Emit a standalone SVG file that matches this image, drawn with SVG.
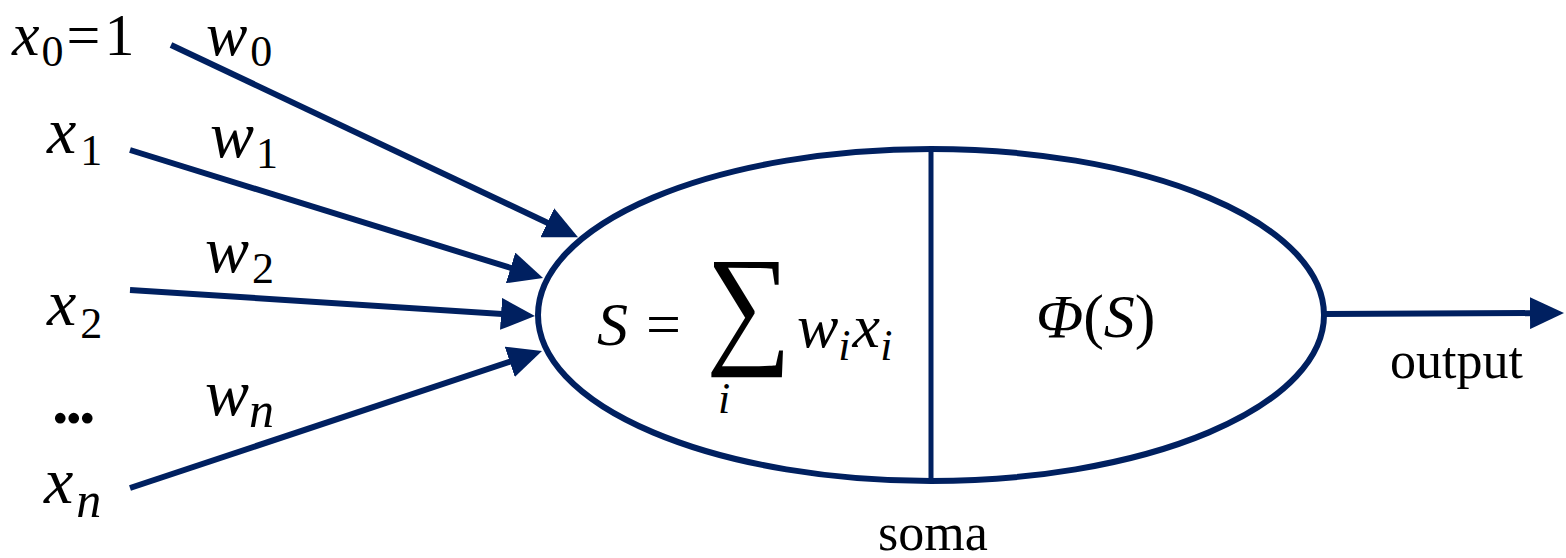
<svg xmlns="http://www.w3.org/2000/svg" width="1566" height="558" viewBox="0 0 1566 558">
<style>
.m{font-family:"Liberation Serif",serif;font-style:italic;font-size:66px;fill:#000}
.t{font-size:62px}
.f{font-family:"Liberation Serif",serif;font-style:italic;font-size:62px;fill:#000}
.up{font-style:normal}
.sub{font-size:44px;font-style:normal}
.isub{font-size:44px}
.nsub{font-size:50px}
.sig{font-family:"Liberation Serif",serif;font-size:133px;fill:#000}
.lbl{font-family:"Liberation Serif",serif;font-size:52px;fill:#000}
.ln{stroke:#002060;stroke-width:6;fill:none}
</style>
<defs>
<marker id="ah" markerUnits="userSpaceOnUse" markerWidth="34" markerHeight="32" refX="24" refY="16" orient="auto" viewBox="0 0 34 32">
<path d="M0,0 L34,16 L0,32 Z" fill="#002060"/>
</marker>
</defs>
<g id="soma">
<ellipse cx="931" cy="315" rx="393" ry="166" class="ln"/>
<line x1="931" y1="149" x2="931" y2="481" stroke="#002060" stroke-width="5"/>
<text x="597" y="345" class="f">S</text>
<text x="646" y="345" class="f up">=</text>
<text x="0" y="0" class="sig" transform="translate(706 349) scale(0.9 1)">∑</text>
<text x="718" y="413" class="f isub">i</text>
<text x="797" y="347" class="f">w<tspan class="isub" dy="13">i</tspan><tspan dx="2" dy="-13">x</tspan><tspan class="isub" dy="13">i</tspan></text>
<text x="1036" y="337" class="f" font-size="64">Φ<tspan class="up">(</tspan>S<tspan class="up">)</tspan></text>
<text x="933" y="550" class="lbl" text-anchor="middle">soma</text>
</g>
<g id="inputs">
<text x="12" y="55" class="m t">x<tspan class="sub" dx="2" dy="11">0</tspan><tspan class="up" font-size="60" dx="3" dy="-11">=</tspan><tspan class="up" font-size="60" dx="4">1</tspan></text>
<text x="47" y="153" class="m">x<tspan class="sub" dx="4" dy="12">1</tspan></text>
<text x="47" y="325" class="m">x<tspan class="sub" dx="4" dy="13">2</tspan></text>
<text x="52" y="423" class="m up" font-weight="bold" letter-spacing="-3">...</text>
<text x="44" y="503" class="m">x<tspan class="nsub" dx="3" dy="14">n</tspan></text>
</g>
<g id="weights">
<text x="206" y="55" class="m t">w<tspan class="sub" dx="3" dy="11">0</tspan></text>
<text x="210" y="157" class="m">w<tspan class="sub" dx="2" dy="11">1</tspan></text>
<text x="205" y="272" class="m">w<tspan class="sub" dx="3" dy="11">2</tspan></text>
<text x="205" y="415" class="m">w<tspan class="nsub" dy="12">n</tspan></text>
</g>
<g id="connectors">
<line x1="171" y1="45" x2="569" y2="233" class="ln" marker-end="url(#ah)"/>
<line x1="130" y1="150" x2="533.5" y2="275" class="ln" marker-end="url(#ah)"/>
<line x1="130" y1="290" x2="525" y2="315.4" class="ln" marker-end="url(#ah)"/>
<line x1="130" y1="488" x2="532.5" y2="354.2" class="ln" marker-end="url(#ah)"/>
<line x1="1325" y1="314" x2="1554" y2="313" class="ln" marker-end="url(#ah)"/>
</g>
<g id="output">
<text x="1390" y="378" class="lbl">output</text>
</g>
</svg>
